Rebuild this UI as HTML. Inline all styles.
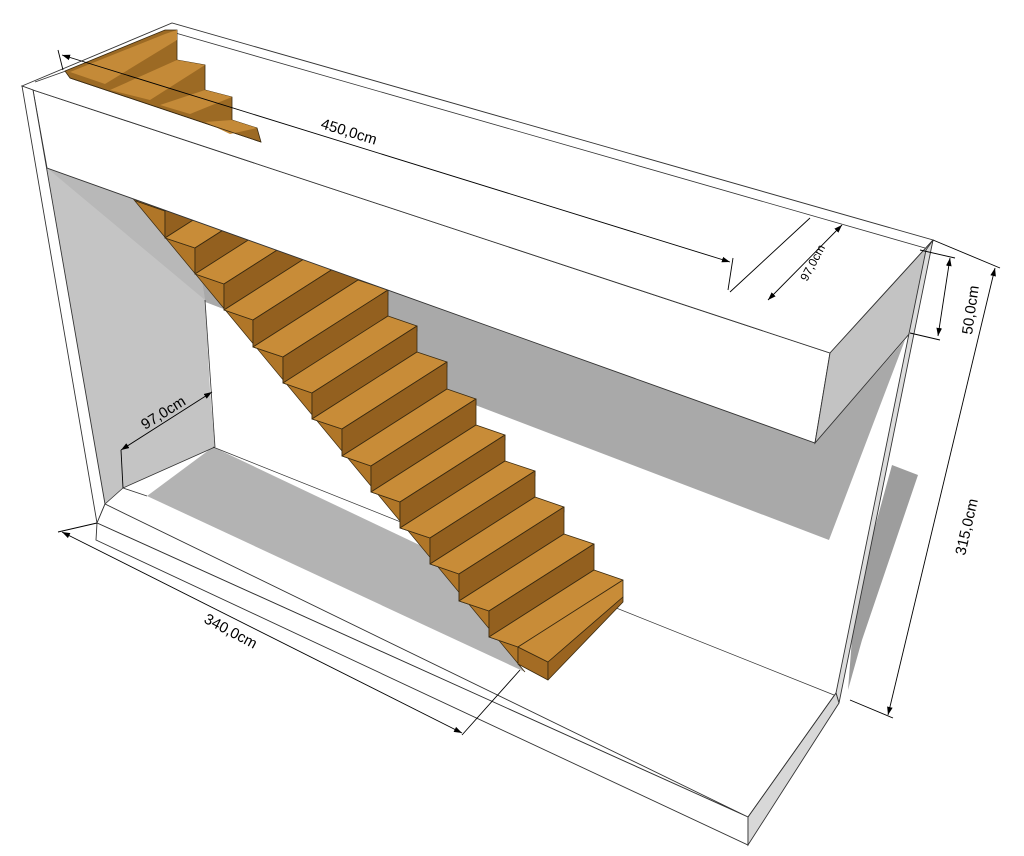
<!DOCTYPE html>
<html><head><meta charset="utf-8"><style>html,body{margin:0;padding:0;background:#fff}svg{display:block}</style></head>
<body>
<svg width="1024" height="856" viewBox="0 0 1024 856" xmlns="http://www.w3.org/2000/svg" font-family="Liberation Sans, sans-serif">
<defs>
<marker id="a" viewBox="0 0 10 10" refX="10" refY="5" markerWidth="9" markerHeight="9" orient="auto-start-reverse"><path d="M0,1.5 L10,5 L0,8.5z" fill="#000"/></marker>
</defs>
<rect width="1024" height="856" fill="#fff"/>
<polygon points="140,200 815,443 905,340 829,540 200,300" fill="#a9a9a9"/>
<polygon points="892,465 918,475 862,640 848,690 855,600" fill="#9d9d9d"/>
<polygon points="47,168 140,200 200,268 205,300 210,390 215,447 123,488 105,504" fill="#c4c4c4"/>
<polygon points="47,168 140,200 200,268 205,300" fill="#b8b8b8"/>
<line x1="205" y1="300" x2="215" y2="447" stroke="#333" stroke-width="0.8"/>
<polygon points="147,496 213,447 430,550 525,672" fill="#b3b3b3"/>
<line x1="123" y1="488" x2="215" y2="447" stroke="#333" stroke-width="0.8"/>
<line x1="147" y1="496" x2="123" y2="488" stroke="#333" stroke-width="0.8"/>
<line x1="213" y1="447" x2="839" y2="697" stroke="#333" stroke-width="0.7"/>
<!-- stringer -->
<polygon points="136,175 136,201 165,211 165,238 195,248 195,274 224,284 224,310 253,320 253,347 283,357 283,383 312,393 312,419 342,429 342,456 371,466 371,492 400,502 400,528 430,538 430,564 459,574 459,601 489,611 489,637 518,647 518,664 525,672 130,195" fill="#b07628" stroke="#3a2a10" stroke-width="0.7"/>
<g stroke="#3a2a10" stroke-width="0.8" stroke-linejoin="round">
<polygon points="136,201 241,134 241,108 136,175" fill="#93601f"/>
<polygon points="165,211 270,144 241,134 136,201" fill="#c88c38"/>
<polygon points="165,211 270,144 270,149 165,216" fill="#a46c24"/>
<polygon points="165,238 270,171 270,144 165,211" fill="#93601f"/>
<polygon points="195,248 300,181 270,171 165,238" fill="#c88c38"/>
<polygon points="195,248 300,181 300,186 195,253" fill="#a46c24"/>
<polygon points="195,274 300,207 300,181 195,248" fill="#93601f"/>
<polygon points="224,284 329,217 300,207 195,274" fill="#c88c38"/>
<polygon points="224,284 329,217 329,222 224,289" fill="#a46c24"/>
<polygon points="224,310 329,243 329,217 224,284" fill="#93601f"/>
<polygon points="253,320 358,253 329,243 224,310" fill="#c88c38"/>
<polygon points="253,320 358,253 358,258 253,325" fill="#a46c24"/>
<polygon points="253,347 358,280 358,253 253,320" fill="#93601f"/>
<polygon points="283,357 388,290 358,280 253,347" fill="#c88c38"/>
<polygon points="283,357 388,290 388,295 283,362" fill="#a46c24"/>
<polygon points="283,383 388,316 388,290 283,357" fill="#93601f"/>
<polygon points="312,393 417,326 388,316 283,383" fill="#c88c38"/>
<polygon points="312,393 417,326 417,331 312,398" fill="#a46c24"/>
<polygon points="312,419 417,352 417,326 312,393" fill="#93601f"/>
<polygon points="342,429 447,362 417,352 312,419" fill="#c88c38"/>
<polygon points="342,429 447,362 447,367 342,434" fill="#a46c24"/>
<polygon points="342,456 447,389 447,362 342,429" fill="#93601f"/>
<polygon points="371,466 476,399 447,389 342,456" fill="#c88c38"/>
<polygon points="371,466 476,399 476,404 371,471" fill="#a46c24"/>
<polygon points="371,492 476,425 476,399 371,466" fill="#93601f"/>
<polygon points="400,502 505,435 476,425 371,492" fill="#c88c38"/>
<polygon points="400,502 505,435 505,440 400,507" fill="#a46c24"/>
<polygon points="400,528 505,461 505,435 400,502" fill="#93601f"/>
<polygon points="430,538 535,471 505,461 400,528" fill="#c88c38"/>
<polygon points="430,538 535,471 535,476 430,543" fill="#a46c24"/>
<polygon points="430,564 535,497 535,471 430,538" fill="#93601f"/>
<polygon points="459,574 564,507 535,497 430,564" fill="#c88c38"/>
<polygon points="459,574 564,507 564,512 459,579" fill="#a46c24"/>
<polygon points="459,601 564,534 564,507 459,574" fill="#93601f"/>
<polygon points="489,611 594,544 564,534 459,601" fill="#c88c38"/>
<polygon points="489,611 594,544 594,549 489,616" fill="#a46c24"/>
<polygon points="489,637 594,570 594,544 489,611" fill="#93601f"/>
<polygon points="518,647 623,580 594,570 489,637" fill="#c88c38"/>
<polygon points="518,647 548,662 548,680 518,664" fill="#a46c24"/>
<polygon points="548,662 623,597 623,580 518,647" fill="#c88c38"/>
<polygon points="548,662 623,597 623,602 548,680" fill="#9a6420"/>
</g>
<polygon points="33,90 830,353 815,443 47,168" fill="#fff" stroke="#333" stroke-width="0.9"/>
<polygon points="22,86 172,23 933,240 830,353 33,90" fill="#fff" stroke="#333" stroke-width="0.9"/>
<line x1="35" y1="82" x2="175" y2="32" stroke="#333" stroke-width="0.8"/>
<line x1="172" y1="32" x2="925" y2="248" stroke="#333" stroke-width="0.8"/>
<polygon points="830,353 933,240 910,333 815,443" fill="#c3c3c3" stroke="#333" stroke-width="0.9"/>
<polygon points="65,71 165,30 177,30 177,60 205,65 205,90 232,97 232,120 257,128 261,142 70,78" fill="#9c6a24" stroke="#3a2a10" stroke-width="0.8"/>
<polygon points="70,72 165,34 177,30 177,40 105,84" fill="#c48a38"/>
<polygon points="110,90 177,60 205,65 150,100" fill="#c48a38"/>
<polygon points="160,105 205,90 232,97 190,114" fill="#c48a38"/>
<polygon points="205,122 232,120 257,128 230,134" fill="#c48a38"/>
<line x1="70" y1="78" x2="261" y2="142" stroke="#3a2a10" stroke-width="0.8"/>
<polygon points="22,86 33,90 105,504 97,523" fill="#fff" stroke="#333" stroke-width="0.9"/>
<polygon points="933,240 926,250 836,693 839,703" fill="#ddd" stroke="#333" stroke-width="0.9"/>
<polygon points="97,523 105,504 748,817" fill="#fff" stroke="#333" stroke-width="0.9"/>
<polygon points="97,523 748,817 748,845 96,540" fill="#fff" stroke="#333" stroke-width="0.9"/>
<polygon points="748,817 836,693 839,703 748,845" fill="#d8d8d8" stroke="#333" stroke-width="0.9"/>
<line x1="105" y1="504" x2="123" y2="488" stroke="#333" stroke-width="0.8"/>
<line x1="836" y1="693" x2="748" y2="817" stroke="#333" stroke-width="0.8"/>
<g stroke="#000" stroke-width="0.9" fill="none">
<line x1="62" y1="55" x2="730" y2="262" marker-start="url(#a)" marker-end="url(#a)"/>
<line x1="58" y1="50" x2="63" y2="70"/>
<line x1="733" y1="258" x2="728" y2="290"/>
<line x1="768" y1="300" x2="842" y2="225" marker-start="url(#a)" marker-end="url(#a)"/>
<line x1="730" y1="292" x2="810" y2="218"/>
<line x1="950" y1="258" x2="938" y2="336" marker-start="url(#a)" marker-end="url(#a)"/>
<line x1="920" y1="250" x2="955" y2="258"/>
<line x1="910" y1="333" x2="940" y2="340"/>
<line x1="995" y1="268" x2="888" y2="715" marker-start="url(#a)" marker-end="url(#a)"/>
<line x1="933" y1="240" x2="1000" y2="268"/>
<line x1="850" y1="700" x2="893" y2="718"/>
<line x1="212" y1="392" x2="121" y2="450" marker-start="url(#a)" marker-end="url(#a)"/>
<line x1="121" y1="450" x2="123" y2="488"/>
<line x1="62" y1="532" x2="462" y2="733" marker-start="url(#a)" marker-end="url(#a)"/>
<line x1="58" y1="532" x2="97" y2="523"/>
<line x1="462" y1="735" x2="520" y2="670"/>
</g>
<g font-size="15" fill="#000">
<text transform="translate(320,128) rotate(17)">450,0cm</text>
<text transform="translate(807,282) rotate(-62)" font-size="12">97,0cm</text>
<text transform="translate(972,335) rotate(-82)">50,0cm</text>
<text transform="translate(965,556) rotate(-77)">315,0cm</text>
<text transform="translate(145,430) rotate(-32)">97,0cm</text>
<text transform="translate(203,622) rotate(28)">340,0cm</text>
</g>
</svg>
</body></html>
